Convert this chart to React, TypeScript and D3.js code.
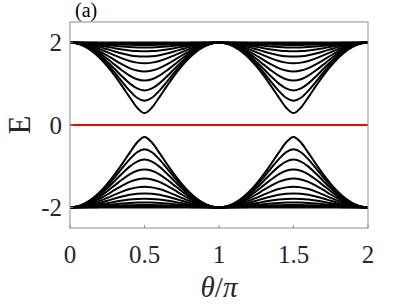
import React from 'react'
import * as d3 from 'd3'

// theta/pi samples over half a period; the bands are mirrored about 0.5 and repeat with period 1
const thetaHalf = [0, 0.05, 0.1, 0.15, 0.2, 0.25, 0.3, 0.35, 0.4, 0.45, 0.5]

// upper band energies read at thetaHalf (lower bands are the mirror image below zero)
const upperBands = [
  [2, 1.976, 1.904, 1.787, 1.627, 1.429, 1.199, 0.944, 0.677, 0.424, 0.29],
  [2, 1.978, 1.911, 1.802, 1.655, 1.475, 1.269, 1.049, 0.835, 0.661, 0.59],
  [2, 1.98, 1.92, 1.822, 1.692, 1.534, 1.358, 1.177, 1.01, 0.887, 0.84],
  [2, 1.983, 1.931, 1.848, 1.738, 1.607, 1.465, 1.323, 1.199, 1.112, 1.08],
  [2, 1.986, 1.944, 1.877, 1.789, 1.687, 1.577, 1.472, 1.382, 1.322, 1.3],
  [2, 1.989, 1.958, 1.908, 1.843, 1.768, 1.69, 1.616, 1.555, 1.514, 1.5],
  [2, 1.992, 1.97, 1.935, 1.89, 1.838, 1.785, 1.736, 1.695, 1.669, 1.66],
  [2, 1.995, 1.981, 1.959, 1.93, 1.898, 1.865, 1.835, 1.811, 1.795, 1.79],
  [2, 1.997, 1.989, 1.976, 1.959, 1.941, 1.922, 1.905, 1.892, 1.883, 1.88],
  [2, 1.999, 1.994, 1.988, 1.98, 1.97, 1.961, 1.953, 1.946, 1.942, 1.94],
  [2, 2, 1.998, 1.996, 1.993, 1.99, 1.987, 1.984, 1.982, 1.981, 1.98],
  [2, 2, 2, 2, 2, 2, 2, 2, 2, 2, 2],
]

const zeroMode = [0, 0]
const xTicks = [0, 0.5, 1, 1.5, 2]
const yTicks = [-2, 0, 2]

const W = 407
const H = 305
const m = { l: 70, r: 39, t: 22, b: 77 }

function expand(vals: number[]): [number, number][] {
  const pts: [number, number][] = []
  for (const p of [0, 1]) {
    thetaHalf.forEach((t, i) => {
      if (p === 1 && i === 0) return
      pts.push([p + t, vals[i]])
    })
    for (let i = thetaHalf.length - 2; i >= 0; i--) pts.push([p + 1 - thetaHalf[i], vals[i]])
  }
  return pts
}

export default function App() {
  const x = d3.scaleLinear().domain([0, 2]).range([m.l, W - m.r])
  const y = d3.scaleLinear().domain([-2.5, 2.5]).range([H - m.b, m.t])
  const line = d3.line<[number, number]>()
    .x(d => x(d[0]))
    .y(d => y(d[1]))
    .curve(d3.curveMonotoneX)

  const upper = upperBands.map(expand)
  const lower = upper.map(c => c.map(([t, e]) => [t, -e] as [number, number]))
  const serif = "'Liberation Serif', 'DejaVu Serif', serif"

  return (
    <svg width={W} height={H} style={{ position: 'absolute', left: 0, top: 0, background: '#fff', fontFamily: serif }}>
      <rect x={0} y={0} width={W} height={H} fill="#fff" />
      <defs>
        <clipPath id="plot">
          <rect x={m.l} y={m.t} width={W - m.l - m.r} height={H - m.t - m.b} />
        </clipPath>
      </defs>
      <g clipPath="url(#plot)">
        {[...upper, ...lower].map((c, i) => (
          <path key={i} d={line(c) || ''} fill="none" stroke="#000" strokeWidth={2} />
        ))}
        <line x1={x(0)} x2={x(2)} y1={y(zeroMode[0])} y2={y(zeroMode[1])} stroke="#ff0000" strokeWidth={2} />
      </g>
      <rect x={m.l} y={m.t} width={W - m.l - m.r} height={H - m.t - m.b}
        fill="none" stroke="#8c8c8c" strokeWidth={1} />
      {xTicks.map(t => (
        <g key={'x' + t}>
          <line x1={x(t)} x2={x(t)} y1={H - m.b} y2={H - m.b - 3} stroke="#8c8c8c" />
          <text x={x(t)} y={263} textAnchor="middle" fontSize={25} fill="#262626"
            style={{ fontFamily: serif }}>{t}</text>
        </g>
      ))}
      {yTicks.map(t => (
        <g key={'y' + t}>
          <line x1={m.l} x2={m.l + 3} y1={y(t)} y2={y(t)} stroke="#8c8c8c" />
          <text x={62} y={y(t) + 8.5} textAnchor="end" fontSize={25} fill="#262626"
            style={{ fontFamily: serif }}>{t}</text>
        </g>
      ))}
      <text x={(m.l + W - m.r) / 2} y={297} textAnchor="middle" fontSize={29} fill="#262626"
        style={{ fontFamily: serif }}>
        <tspan fontStyle="italic">θ</tspan>/<tspan fontStyle="italic">π</tspan>
      </text>
      <text transform={`translate(30,${y(0)}) rotate(-90)`} textAnchor="middle" fontSize={31} fill="#262626"
        style={{ fontFamily: serif }}>E</text>
      <text x={75} y={17} fontSize={20} fill="#000" style={{ fontFamily: serif }}>(a)</text>
    </svg>
  )
}
